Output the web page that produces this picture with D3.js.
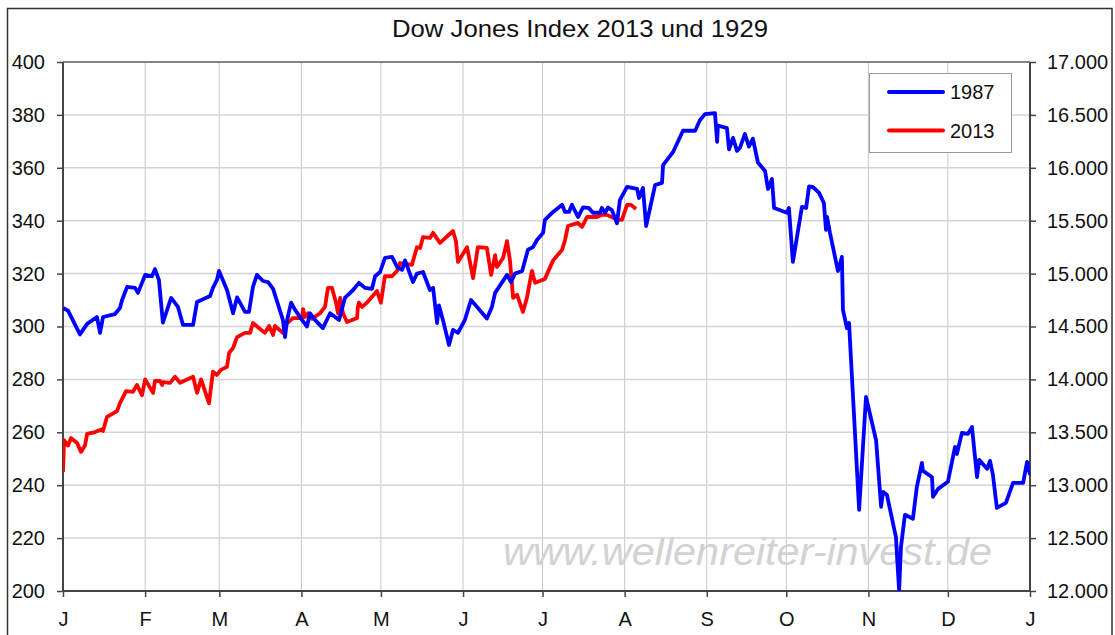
<!DOCTYPE html>
<html>
<head>
<meta charset="utf-8">
<script src="https://cdn.jsdelivr.net/npm/d3@7"></script>
<style>
  body { margin: 0; background: #fff; }
  svg { display: block; font-family: "Liberation Sans", Arial, sans-serif; }
</style>
</head>
<body>
<script>
// ---- data (day of year, index value) ----
var seriesNames = ["1987", "2013"];
var monthLabels = ["J", "F", "M", "A", "M", "J", "J", "A", "S", "O", "N", "D", "J"];
var leftTicks = [200, 220, 240, 260, 280, 300, 320, 340, 360, 380, 400];
var rightTicks = [12000, 12500, 13000, 13500, 14000, 14500, 15000, 15500, 16000, 16500, 17000];

var blueDays = [0, 1.9, 6.4, 9.1, 12.8, 14, 15.1, 19.6, 21.5, 22.3, 24.2, 27.2, 28.3, 31, 33.6, 34.7, 36.2, 37.7,
  40.8, 43.4, 45.3, 49.1, 50.6, 55.5, 56.6, 58.1, 58.9, 61.9, 64.2, 65.7, 68.7, 70.2, 71.7, 73.2, 75.5, 77.4, 79.3,
  83, 83.8, 84.6, 86.1, 87.6, 90.2, 92.1, 93.2, 95.1, 98.1, 100.8, 104.2, 106.4, 107.6, 109.5, 111.7, 114, 116.6,
  117.8, 119.7, 121.5, 124.2, 126.1, 128, 129.1, 132.1, 133.6, 135.9, 138.5, 139.7, 141.2, 141.9, 143.4, 145.7,
  147.2, 149.1, 151.7, 154, 156.3, 160, 161.9, 163.1, 167.6, 169.1, 170.6, 173.3, 175.5, 177.4, 178.9, 181.2,
  181.9, 185, 188.4, 189.5, 191, 192.1, 194.4, 196.3, 198.5, 200, 202.7, 203.4, 204.6, 205.7, 207.2, 209.1,
  210.2, 212.9, 216.7, 217.4, 218.9, 220.1, 223.5, 226.1, 226.5, 230.3, 234, 238.6, 240.4, 242.3, 246.1, 246.9,
  247.2, 250.6, 251.4, 252.9, 254.4, 255.5, 257.4, 258.9, 260.4, 262.3, 265, 266.1, 267.6, 268.4, 273.3, 274,
  275.5, 278.9, 280.5, 281.6, 283.1, 285.4, 287.2, 288, 288.4, 289.5, 292.5, 294, 294.4, 295.9, 296.7, 300.5,
  303.1, 306.9, 308.8, 309.5, 311, 314.4, 315.6, 316.3, 317.8, 320.8, 322.3, 324.2, 324.6, 328, 328.4, 330.3,
  334, 336.7, 337.4, 339.3, 341.6, 343.1, 345, 345.8, 348.8, 349.9, 351, 352.5, 355.9, 358.6, 362.4, 363.9, 365];
var blueValues = [307, 306, 297, 301, 303.6, 297.6, 303.6, 304.7, 307, 310, 315, 314.6, 312.7, 319.5, 319, 321.7, 317.6, 301.5,
  310.8, 307.4, 300.6, 300.6, 309.3, 311.5, 314.6, 317.6, 321, 313.8, 305, 311, 305.5, 305.5, 315, 319.5, 317.2, 316.8, 314.2,
  302.5, 296, 302.5, 309, 306.3, 302.5, 300, 305, 302.5, 299.4, 305, 302.5, 310.8, 312, 313.8, 316.5, 314.6, 314.2,
  319, 320.6, 325.9, 326.3, 322.5, 321.4, 325, 316.8, 320, 320.6, 313.8, 314.6, 301.3, 308, 302.5, 293,
  298.7, 297.6, 302.5, 310, 307.4, 303, 307.4, 312.7, 319.5, 316.8, 320, 321, 329, 330, 332.7, 335.4,
  340.3, 343.3, 346, 343.3, 343.3, 346, 341.4, 345, 344.8, 343, 343, 344.8, 343, 345, 344, 339,
  347.8, 352.8, 352, 348.6, 352.4, 338, 353.5, 354.3, 361, 366, 374, 374, 378, 380.3, 380.7, 369.8,
  376, 375, 367, 371.3, 366.4, 367.5, 372.8, 368, 371, 362, 358.8, 352, 355.8, 344.8, 343, 344.8,
  324.4, 345.2, 344.8, 353, 352.7, 350.5, 346.7, 336.5, 341.4, 335.4, 321, 326.3, 306.3, 299.4, 301.3, 230.7,
  273.4, 257, 231.8, 237.5, 236.3, 220.4, 200, 216.7, 228.8, 227.3, 239.4, 248.4, 245.4, 243.1, 235.6, 238.6,
  241.3, 254.5, 251.8, 259.8, 259.4, 262, 243.1, 249.6, 246.2, 249.2, 243.9, 231.4, 233.3, 240.9, 240.9, 248.8, 243.9];

var redDays = [0, 0.4, 1.9, 3, 5.3, 6.8, 8.3, 9.1, 12.1, 14.7, 15.1, 16.6, 20.4, 21.5, 23.8, 26.4, 27.9, 29.8, 31,
  34, 34.7, 36.6, 37.4, 37.7, 40.4, 42.3, 44.2, 49.1, 50.6, 52.1, 55.1, 56.6, 58.1, 59.6, 61.9, 62.7, 64.2, 65.7,
  68.7, 70.6, 71.7, 76.2, 77.8, 79.3, 80, 83, 84.6, 86.8, 90.2, 90.6, 91.3, 92.5, 94, 97, 98.9, 100, 101.5, 103,
  103.8, 104.6, 105.7, 107.2, 111, 111.3, 111.7, 112.9, 114.7, 118.5, 120, 121.5, 124.2, 126.1, 127.2, 131.7,
  133.6, 134.8, 135.9, 138.5, 139.7, 142.3, 147.2, 148.3, 149.1, 152.5, 154.8, 156.6, 160, 161.6, 163.1, 163.8,
  166.1, 167.6, 168.7, 169.9, 171.4, 173.6, 175.1, 177, 178.2, 181.9, 185, 188.4, 189.5, 190.6, 194.4, 195.9,
  197.8, 201.6, 203.4, 205.3, 209.5, 211, 212.9, 214.4, 216.3];
var redValues = [245, 257, 255, 257.8, 256, 252.6, 255, 259.4, 260.1, 261.2, 260.5, 265.8, 268, 271, 275.6, 275.3, 277.9, 274, 280,
  274.9, 279.4, 279.4, 277.9, 279, 278.7, 281, 278.7, 281, 274.9, 280, 271, 282.9, 281.7, 283.6, 284.8, 290, 291.9, 296,
  297.6, 297.6, 301.3, 297.6, 300.2, 296.8, 300.2, 297.6, 301.3, 303.2, 303.2, 306.6, 303.6, 305, 302.9, 305, 307.4, 314.6, 314.6, 309.3,
  305, 310.8, 305, 301.7, 303.2, 307.4, 309, 307.4, 309, 313.4, 309, 319, 319, 321, 324, 323.3,
  330, 329.7, 333.8, 333.5, 335.4, 331.6, 336.1, 332.3, 324.4, 330, 318.3, 330, 329.7, 319.5, 327, 322.5,
  325.9, 332.3, 325, 310.8, 312, 305.5, 310.8, 321, 316.5, 318, 325, 329, 332.7, 338, 339.2, 337.7,
  341.4, 341.4, 342.2, 342.2, 340.3, 340.3, 346, 346, 344.4];

// ---- layout ----
var W = 1115, H = 635;
var plot = {left: 63, right: 1030, top: 62, bottom: 591};
var yearStart = new Date(1987, 0, 1), yearEnd = new Date(1988, 0, 1);
function dayToDate(d) { return new Date(+yearStart + d * 864e5); }

var x = d3.scaleTime().domain([yearStart, yearEnd]).range([plot.left, plot.right]);
var y = d3.scaleLinear().domain([200, 400]).range([plot.bottom, plot.top]);
var y2 = d3.scaleLinear().domain([12000, 17000]).range([plot.bottom, plot.top]);

var de = d3.formatLocale({decimal: ",", thousands: ".", grouping: [3], currency: ["", "€"]});
var fmtRight = de.format(",.0f");

var svg = d3.select("body").append("svg").attr("width", W).attr("height", H);

// outer frame
svg.append("rect").attr("x", 7.5).attr("y", 8.5).attr("width", 1104.5).attr("height", 640)
  .attr("fill", "#fff").attr("stroke", "#333").attr("stroke-width", 1.5);

// title
svg.append("text").attr("x", 392).attr("y", 37).attr("font-size", 24).attr("fill", "#111")
  .attr("textLength", 376).attr("lengthAdjust", "spacingAndGlyphs")
  .text("Dow Jones Index 2013 und 1929");

// grid
var monthTicks = d3.timeMonth.range(yearStart, d3.timeDay.offset(yearEnd, 1));
svg.append("g").selectAll("line").data(monthTicks).join("line")
  .attr("x1", d => x(d)).attr("x2", d => x(d)).attr("y1", plot.top).attr("y2", plot.bottom)
  .attr("stroke", "#c8c8c8").attr("stroke-width", 1);
svg.append("g").selectAll("line").data(leftTicks).join("line")
  .attr("x1", plot.left).attr("x2", plot.right).attr("y1", d => y(d)).attr("y2", d => y(d))
  .attr("stroke", "#d4d4d4").attr("stroke-width", 1.5);

// watermark
svg.append("text").attr("x", 503).attr("y", 565).attr("font-size", 38).attr("font-style", "italic")
  .attr("fill", "#d2d2d2").attr("textLength", 489).attr("lengthAdjust", "spacingAndGlyphs")
  .text("www.wellenreiter-invest.de");

// axes
var axisColor = "#444";
var gl = svg.append("g").attr("transform", "translate(" + plot.left + ",0)")
  .call(d3.axisLeft(y).tickValues(leftTicks).tickSize(6).tickPadding(12));
var gr = svg.append("g").attr("transform", "translate(" + plot.right + ",0)")
  .call(d3.axisRight(y2).tickValues(rightTicks).tickSize(6).tickPadding(11).tickFormat(fmtRight));
var gb = svg.append("g").attr("transform", "translate(0," + plot.bottom + ")")
  .call(d3.axisBottom(x).tickValues(monthTicks).tickSize(6).tickPadding(15)
    .tickFormat((d, i) => monthLabels[i]));
[gl, gr, gb].forEach(function (g) {
  g.select(".domain").attr("stroke", axisColor).attr("stroke-width", 2);
  g.selectAll(".tick line").attr("stroke", axisColor).attr("stroke-width", 1.5);
  g.selectAll(".tick text").attr("font-size", 20).attr("fill", "#111")
    .attr("font-family", "'Liberation Sans', Arial, sans-serif");
});
gl.select(".domain").attr("d", "M0," + plot.top + "V" + plot.bottom);
gr.select(".domain").attr("d", "M0," + plot.top + "V" + plot.bottom);
gb.select(".domain").attr("d", "M" + plot.left + ",0H" + plot.right);
svg.append("line").attr("x1", plot.left).attr("x2", plot.right).attr("y1", plot.top).attr("y2", plot.top)
  .attr("stroke", "#666").attr("stroke-width", 1.5);

// lines
svg.append("clipPath").attr("id", "clip").append("rect")
  .attr("x", plot.left).attr("y", plot.top - 2).attr("width", plot.right - plot.left).attr("height", plot.bottom - plot.top + 2);
var line = d3.line().x(d => x(dayToDate(d[0]))).y(d => y(d[1]));
var blue = blueDays.map((d, i) => [d, blueValues[i]]);
var red = redDays.map((d, i) => [d, redValues[i]]);
var lines = svg.append("g").attr("clip-path", "url(#clip)");
lines.append("path").datum(red).attr("d", line).attr("fill", "none")
  .attr("stroke", "#ff0000").attr("stroke-width", 3.8).attr("stroke-linejoin", "round");
lines.append("path").datum(blue).attr("d", line).attr("fill", "none")
  .attr("stroke", "#0000ff").attr("stroke-width", 3.8).attr("stroke-linejoin", "round");

// legend
var lg = svg.append("g");
lg.append("rect").attr("x", 869.5).attr("y", 73.5).attr("width", 142).attr("height", 79)
  .attr("fill", "#fff").attr("stroke", "#999").attr("stroke-width", 1);
var colors = ["#0000ff", "#ff0000"];
seriesNames.forEach(function (n, i) {
  var yy = 92 + i * 38.5;
  lg.append("line").attr("x1", 889).attr("x2", 943).attr("y1", yy).attr("y2", yy)
    .attr("stroke", colors[i]).attr("stroke-width", 4).attr("stroke-linecap", "round");
  lg.append("text").attr("x", 950).attr("y", yy + 7).attr("font-size", 20).attr("fill", "#111").text(n);
});
</script>
</body>
</html>
